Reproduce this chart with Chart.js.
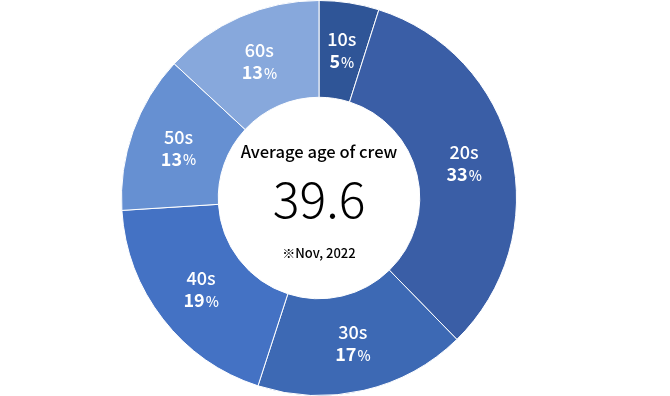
<!DOCTYPE html>
<html>
<head>
<meta charset="utf-8">
<script src="https://cdn.jsdelivr.net/npm/chart.js@4"></script>
<style>
  html, body { margin: 0; padding: 0; background: #fff; }
  #wrap { width: 670px; height: 396px; }
</style>
</head>
<body>
<div id="wrap"><canvas id="crew-chart"></canvas></div>
<script>
const ageGroups = ["10s", "20s", "30s", "40s", "50s", "60s"];
const shares = [4.9, 32.8, 17.3, 19.0, 12.9, 13.1];
const shareLabels = ["5", "33", "17", "19", "13", "13"];
const sliceColors = ["#2f5597", "#3a5ea6", "#3d69b4", "#4472c4", "#6690d2", "#87a8dc"];
const centerTitle = "Average age of crew";
const centerValue = "39.6";
const centerNote = "\u203bNov, 2022";

const FONT = "'Noto Sans CJK JP', 'Noto Sans', sans-serif";

const sliceLabels = {
  id: "sliceLabels",
  afterDatasetsDraw(chart) {
    const ctx = chart.ctx;
    const meta = chart.getDatasetMeta(0);
    ctx.save();
    ctx.fillStyle = "#fff";
    ctx.textBaseline = "middle";
    meta.data.forEach((arc, i) => {
      const p = arc.getCenterPoint();
      ctx.textAlign = "center";
      ctx.font = "500 18px " + FONT;
      ctx.fillText(ageGroups[i], p.x, p.y - 11);
      // number bold, percent sign smaller
      ctx.font = "bold 18px " + FONT;
      const nw = ctx.measureText(shareLabels[i]).width;
      ctx.font = "500 14px " + FONT;
      const pw = ctx.measureText("%").width;
      const x0 = p.x - (nw + pw + 1) / 2;
      ctx.textAlign = "left";
      ctx.font = "bold 18px " + FONT;
      ctx.fillText(shareLabels[i], x0, p.y + 11);
      ctx.font = "500 14px " + FONT;
      ctx.fillText("%", x0 + nw + 1, p.y + 12);
    });
    ctx.restore();
  },
};

const centerText = {
  id: "centerText",
  afterDraw(chart) {
    const ctx = chart.ctx;
    const arc = chart.getDatasetMeta(0).data[0];
    const cx = arc.x, cy = arc.y;
    ctx.save();
    ctx.fillStyle = "#000";
    ctx.textAlign = "center";
    ctx.textBaseline = "middle";
    ctx.font = "500 16.6px " + FONT;
    ctx.fillText(centerTitle, cx, cy - 46);
    ctx.font = "300 50px " + FONT;
    ctx.fillText(centerValue, cx, cy + 1);
    ctx.font = "500 13px " + FONT;
    ctx.fillText(centerNote, cx, cy + 55);
    ctx.restore();
  },
};

new Chart(document.getElementById("crew-chart"), {
  type: "doughnut",
  data: {
    labels: ageGroups,
    datasets: [
      {
        data: shares,
        backgroundColor: sliceColors,
        borderColor: "#fff",
        borderWidth: 1,
      },
    ],
  },
  options: {
    responsive: true,
    maintainAspectRatio: false,
    animation: false,
    cutout: "51%",
    layout: { padding: { right: 32 } },
    plugins: {
      legend: { display: false },
      tooltip: { enabled: false },
    },
  },
  plugins: [sliceLabels, centerText],
});
</script>
</body>
</html>
